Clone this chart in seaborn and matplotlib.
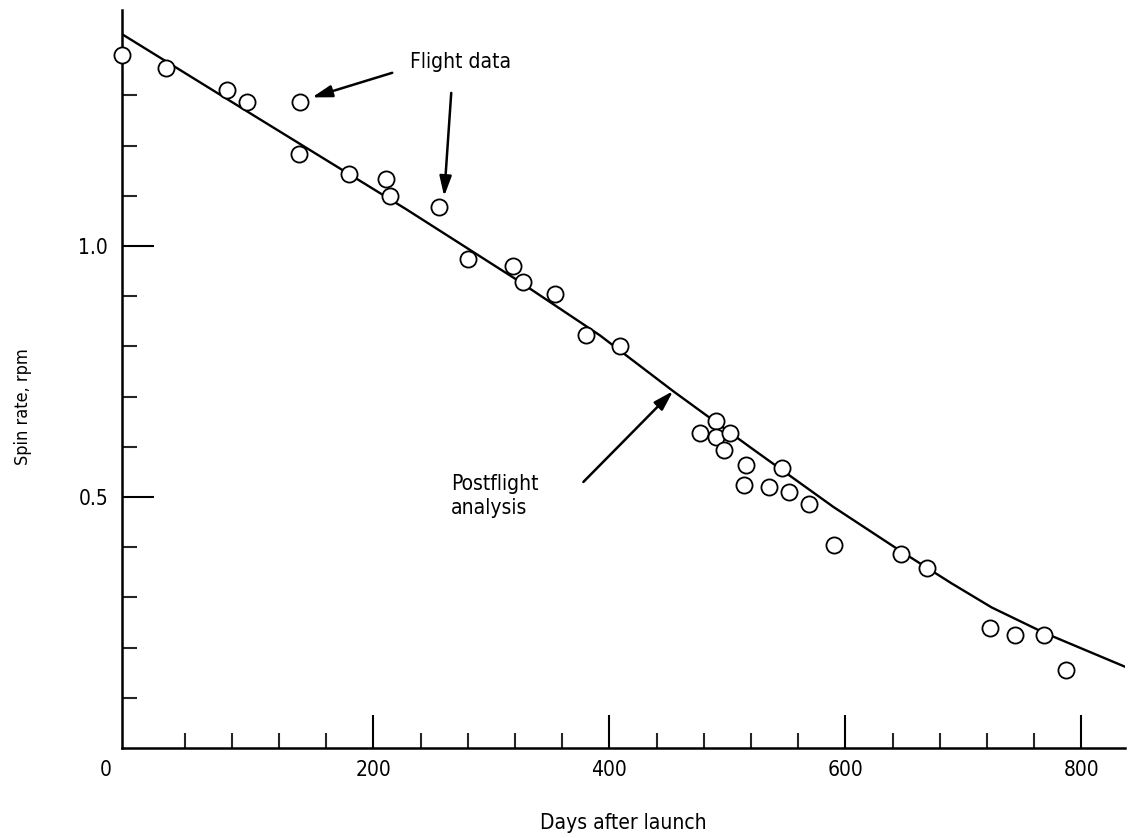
import matplotlib
matplotlib.use("Agg")
import matplotlib.pyplot as plt
import matplotlib.transforms as mtransforms
from matplotlib import font_manager as fm
from matplotlib.ticker import FixedLocator, MultipleLocator
import pandas as pd
import seaborn as sns

# flight data (days after launch, spin rate rpm)
days = [-13, 24, 76, 93, 138, 137, 179, 211, 214, 256, 280, 318, 327, 354,
        380, 409, 490, 477, 490, 502, 497, 516, 546, 514, 535, 552, 569,
        590, 647, 669, 723, 744, 768, 787]
spin = [1.380, 1.354, 1.310, 1.286, 1.286, 1.184, 1.143, 1.133, 1.099, 1.077,
        0.975, 0.960, 0.929, 0.904, 0.822, 0.800, 0.652, 0.628, 0.620, 0.628,
        0.594, 0.563, 0.557, 0.523, 0.519, 0.509, 0.487, 0.404, 0.386, 0.359,
        0.240, 0.226, 0.225, 0.156]

# postflight analysis curve
fit_days = [-13, 100, 228, 320, 392, 454, 520, 590, 647, 690, 724, 768, 846]
fit_spin = [1.422, 1.258, 1.073, 0.935, 0.822, 0.711, 0.598, 0.480, 0.392,
            0.328, 0.280, 0.230, 0.153]

x_major = [0, 200, 400, 600, 800]
y_major = [0.5, 1.0]
y_minor = [0.1, 0.2, 0.3, 0.4, 0.6, 0.7, 0.8, 0.9, 1.1, 1.2, 1.3]

flight = pd.DataFrame({"days": days, "spin": spin})
fit = pd.DataFrame({"days": fit_days, "spin": fit_spin})

sns.set_style("white")

# narrow typeface like the original, whichever is there
fonts = fm.fontManager.ttflist
family, stretch, fs = "Liberation Sans", "normal", 15
if any(f.name == "Liberation Sans Narrow" for f in fonts):
    family, stretch, fs = "Liberation Sans Narrow", "normal", 17
else:
    cond = [f for f in fonts if f.name == "DejaVu Sans" and "condensed" in str(f.stretch)]
    if cond:
        family, stretch, fs = "DejaVu Sans", cond[0].stretch, 15
plt.rcParams['font.family'] = [family, 'DejaVu Sans']
plt.rcParams['font.stretch'] = stretch
plt.rcParams['text.color'] = "black"
plt.rcParams['axes.labelcolor'] = "black"

fig = plt.figure(figsize=(11.35, 8.38), dpi=100)
ax = fig.add_axes([0.1075, 0.1074, 0.8837, 0.8806])

sns.lineplot(x="days", y="spin", data=fit, color="black", linewidth=1.7,
             ax=ax, zorder=2)
sns.scatterplot(x="days", y="spin", data=flight, marker="o", s=135,
                facecolor="white", edgecolor="black", linewidth=1.3,
                ax=ax, zorder=3, clip_on=False)

ax.set_xlim(-13, 837)
ax.set_ylim(0, 1.47)

for side in ["top", "right"]:
    ax.spines[side].set_visible(False)
for side in ["left", "bottom"]:
    ax.spines[side].set_linewidth(1.8)
    ax.spines[side].set_color("black")

ax.xaxis.set_major_locator(FixedLocator(x_major))
ax.xaxis.set_minor_locator(MultipleLocator(40))
ax.yaxis.set_major_locator(FixedLocator(y_major))
ax.yaxis.set_minor_locator(FixedLocator(y_minor))
ax.set_xticklabels([str(v) for v in x_major])
ax.set_yticklabels(["0.5", "1.0"])

ax.tick_params(axis="x", which="major", direction="in", length=24, width=1.5,
               labelsize=fs, pad=9, colors="black", bottom=True)
ax.tick_params(axis="x", which="minor", direction="in", length=11, width=1.5,
               bottom=True)
ax.tick_params(axis="y", which="major", direction="in", length=23, width=1.5,
               labelsize=fs, pad=10, colors="black", left=True)
ax.tick_params(axis="y", which="minor", direction="in", length=11, width=1.5,
               left=True)

# the origin label sits left of the axis, no tick mark there
t0 = ax.xaxis.get_major_ticks()[0]
t0.tick1line.set_visible(False)
t0.label1.set_transform(t0.label1.get_transform() +
                        mtransforms.ScaledTranslation(-32 / 100, 0, fig.dpi_scale_trans))

ax.set_xlabel("Days after launch", fontsize=fs)
ax.set_ylabel("Spin rate, rpm", fontsize=fs - 2)
ax.xaxis.set_label_coords(0.5, -0.088)
ax.yaxis.set_label_coords(-0.09, 0.462)

arrow = dict(arrowstyle="-|>,head_length=0.6,head_width=0.18", color="black",
             lw=1.8, mutation_scale=20, shrinkA=0, shrinkB=0)
ax.text(231, 1.367, "Flight data", fontsize=fs, ha="left", va="center")
ax.annotate("", xy=(148, 1.296), xytext=(216, 1.345), arrowprops=arrow)
ax.annotate("", xy=(260, 1.099), xytext=(266, 1.305), arrowprops=arrow)

ax.text(266, 0.502, "Postflight\nanalysis", fontsize=fs, ha="left",
        va="center", linespacing=1.3)
ax.annotate("", xy=(454, 0.711), xytext=(378, 0.530), arrowprops=arrow)

plt.savefig("out.png", dpi=100, facecolor="white")
